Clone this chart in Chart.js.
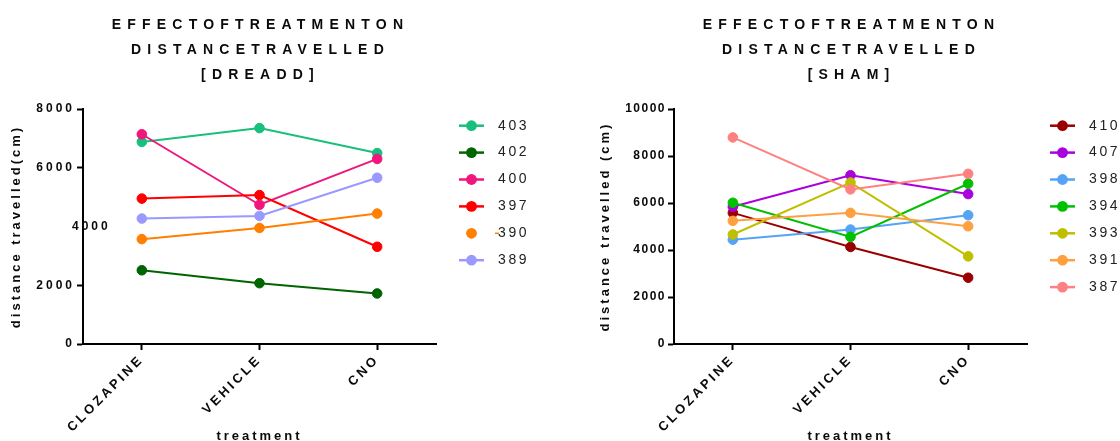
<!DOCTYPE html>
<html>
<head>
<meta charset="utf-8">
<script src="https://cdn.jsdelivr.net/npm/chart.js@4/dist/chart.umd.min.js"></script>
<style>
html,body{margin:0;padding:0;background:#fff;overflow:hidden;}
#wrap{position:relative;width:1120px;height:441px;background:#fff;}
canvas{position:absolute;top:0;}
#c1{left:0;}
#c2{left:560px;}
</style>
</head>
<body>
<div id="wrap">
<canvas id="c1" width="560" height="441"></canvas>
<canvas id="c2" width="560" height="441"></canvas>
</div>
<script>
// ---------- data ----------
const categories = ['CLOZAPINE', 'VEHICLE', 'CNO'];

const dreaddAnimals = ['403', '402', '400', '397', '390', '389'];
const dreadd403 = [6880, 7350, 6500];
const dreadd402 = [2510, 2070, 1720];
const dreadd400 = [7140, 4740, 6300];
const dreadd397 = [4950, 5070, 3310];
const dreadd390 = [3570, 3950, 4440];
const dreadd389 = [4270, 4360, 5660];
const dreaddTicks = [0, 2000, 4000, 6000, 8000];
const dreaddDisplacedTick = 4000;

const shamAnimals = ['410', '407', '398', '394', '393', '391', '387'];
const sham410 = [5580, 4130, 2820];
const sham407 = [5840, 7180, 6380];
const sham398 = [4440, 4870, 5480];
const sham394 = [6010, 4560, 6820];
const sham393 = [4660, 6870, 3730];
const sham391 = [5240, 5580, 5010];
const sham387 = [8790, 6580, 7240];
const shamTicks = [0, 2000, 4000, 6000, 8000, 10000];

const dreaddTitle = ['EFFECTOFTREATMENTON', 'DISTANCETRAVELLED', '[DREADD]'];
const shamTitle = ['EFFECTOFTREATMENTON', 'DISTANCETRAVELLED', '[SHAM]'];
const legendWithoutLine = ['390'];

// ---------- styles ----------
const FONT = '"Liberation Sans", Arial, Helvetica, sans-serif';
const TEXT = '#0a0a0a';
const dreaddColors = ['#19BF7C', '#006400', '#F0167C', '#FF0000', '#FF8000', '#9999FF'];
const shamColors = ['#9A0000', '#AA00DD', '#55A3F5', '#00C000', '#BFBF00', '#FFA040', '#FF8080'];

function makeDatasets(labels, series, colors) {
  return labels.map((l, i) => ({
    label: l,
    data: series[i],
    borderColor: colors[i],
    backgroundColor: colors[i],
    pointBackgroundColor: colors[i],
    pointBorderColor: colors[i],
    borderWidth: 2,
    pointRadius: 4.8,
    pointBorderWidth: 1,
    tension: 0,
    fill: false,
    order: labels.length - i,
    legendLine: !legendWithoutLine.includes(l)
  }));
}

const decor = {
  id: 'decor',
  afterLayout(chart, args, opts) {
    ['x', 'y'].forEach(id => {
      const s = chart.scales[id];
      if (!s || s.__wrapped) return;
      s.__wrapped = true;
      const sp = opts[id];
      const dl = s.drawLabels, dt = s.drawTitle;
      s.drawLabels = function (a) {
        const c = this.ctx, p = c.letterSpacing;
        c.letterSpacing = sp.ticks; dl.call(this, a); c.letterSpacing = p;
      };
      s.drawTitle = function () {
        const c = this.ctx, p = c.letterSpacing;
        c.letterSpacing = sp.title; dt.call(this); c.letterSpacing = p;
      };
    });
  },
  afterDraw(chart, args, opts) {
    const ctx = chart.ctx, ca = chart.chartArea;
    ctx.save();
    // chart title
    ctx.letterSpacing = '6.2px';
    ctx.font = 'bold 14px ' + FONT;
    ctx.fillStyle = TEXT;
    ctx.textAlign = 'center';
    ctx.textBaseline = 'middle';
    const cx = (ca.left + ca.right) / 2 + 1;
    opts.title.forEach((t, i) => ctx.fillText(t, cx, ca.top - 84 + i * 25));
    // displaced tick label
    if (opts.displaced != null) {
      const y = chart.scales.y.getPixelForValue(opts.displaced);
      ctx.letterSpacing = '3px';
      ctx.font = 'bold 12px ' + FONT;
      ctx.textAlign = 'left';
      ctx.fillText(String(opts.displaced), ca.left - 11, y);
    }
    // legend
    chart.data.datasets.forEach((ds, i) => {
      const y = ca.top + 16.7 + i * 26.9;
      const x0 = ca.right + 23;
      ctx.letterSpacing = '0px';
      ctx.strokeStyle = ds.borderColor;
      if (ds.legendLine) {
        ctx.lineWidth = 2.5;
        ctx.beginPath(); ctx.moveTo(x0, y); ctx.lineTo(x0 + 25, y); ctx.stroke();
      } else {
        ctx.lineWidth = 1.5;
        ctx.beginPath(); ctx.moveTo(x0 + 36, y); ctx.lineTo(x0 + 40, y); ctx.stroke();
      }
      ctx.fillStyle = ds.borderColor;
      ctx.beginPath(); ctx.arc(x0 + 12.5, y, 5.4, 0, Math.PI * 2); ctx.fill();
      ctx.letterSpacing = '2.6px';
      ctx.font = '14px ' + FONT;
      ctx.fillStyle = '#222';
      ctx.textAlign = 'left';
      ctx.textBaseline = 'middle';
      ctx.fillText(ds.label, x0 + 39, y);
    });
    ctx.restore();
  }
};

function makeOptions(cfg) {
  return {
    responsive: false,
    animation: false,
    devicePixelRatio: 1,
    layout: { padding: { left: 0, top: 109, right: cfg.padRight, bottom: 0 } },
    plugins: {
      legend: { display: false },
      tooltip: { enabled: false },
      decor: {
        title: cfg.title,
        displaced: cfg.displaced,
        x: { ticks: '3px', title: '3px' },
        y: { ticks: cfg.yTickSpacing, title: '3px' }
      }
    },
    scales: {
      x: {
        type: 'category',
        offset: true,
        grid: { display: true, drawOnChartArea: false, drawTicks: true, tickLength: 6, tickWidth: 2, tickColor: '#000' },
        border: { display: true, color: '#000', width: 2 },
        ticks: { autoSkip: false, maxRotation: 45, minRotation: 45, color: TEXT,
                 font: { family: FONT, size: 13, weight: 'bold' }, padding: 2 },
        title: { display: true, text: 'treatment', color: TEXT,
                 font: { family: FONT, size: 13, weight: 'bold' }, padding: { top: 0, bottom: -3 } },
        afterFit: s => { s.height = 97; }
      },
      y: {
        min: 0,
        max: cfg.ticks[cfg.ticks.length - 1],
        afterBuildTicks: s => { s.ticks = cfg.ticks.map(v => ({ value: v })); },
        grid: { display: true, drawOnChartArea: false, drawTicks: true, tickLength: 6, tickWidth: 2,
                tickColor: c => (c.tick && c.tick.value === cfg.displaced) ? 'rgba(0,0,0,0)' : '#000' },
        border: { display: true, color: '#000', width: 2 },
        ticks: { color: TEXT, font: { family: FONT, size: 12, weight: 'bold' }, padding: 2,
                 callback: v => v === cfg.displaced ? '' : String(v) },
        title: { display: true, text: cfg.yTitle, color: TEXT,
                 font: { family: FONT, size: 13, weight: 'bold' }, padding: { top: cfg.yTitlePad, bottom: 0 } },
        afterFit: s => { s.width = cfg.yWidth; }
      }
    }
  };
}

new Chart(document.getElementById('c1'), {
  type: 'line',
  data: {
    labels: categories,
    datasets: makeDatasets(dreaddAnimals,
      [dreadd403, dreadd402, dreadd400, dreadd397, dreadd390, dreadd389], dreaddColors)
  },
  options: makeOptions({
    padRight: 124, yWidth: 83, yTitlePad: 9, yTitle: 'distance travelled(cm)',
    ticks: dreaddTicks, displaced: dreaddDisplacedTick, title: dreaddTitle, yTickSpacing: '3px'
  }),
  plugins: [decor]
});

new Chart(document.getElementById('c2'), {
  type: 'line',
  data: {
    labels: categories,
    datasets: makeDatasets(shamAnimals,
      [sham410, sham407, sham398, sham394, sham393, sham391, sham387], shamColors)
  },
  options: makeOptions({
    padRight: 93, yWidth: 114, yTitlePad: 38, yTitle: 'distance travelled (cm)',
    ticks: shamTicks, displaced: null, title: shamTitle, yTickSpacing: '1.5px'
  }),
  plugins: [decor]
});
</script>
</body>
</html>
